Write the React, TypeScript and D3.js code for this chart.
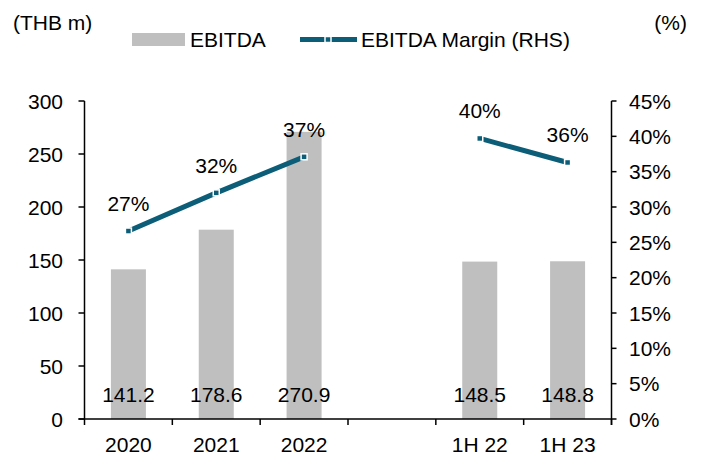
import React from "react";
import * as d3 from "d3";

const categories = ["2020", "2021", "2022", "", "1H 22", "1H 23"];
const ebitda: (number | null)[] = [141.2, 178.6, 270.9, null, 148.5, 148.8];
const margin: (number | null)[] = [0.266, 0.32, 0.371, null, 0.397, 0.363];
const leftTicks = [0, 50, 100, 150, 200, 250, 300];
const rightTicks = [0, 0.05, 0.1, 0.15, 0.2, 0.25, 0.3, 0.35, 0.4, 0.45];

const W = 703;
const H = 459;
const X0 = 84.5;
const X1 = 611.5;
const Y0 = 419;
const Y1 = 101;
const TEAL = "#0b5d78";
const GREY = "#bfbfbf";
const FONT = "'Liberation Sans', Arial, sans-serif";

export default function App() {
  const x = d3.scaleBand<number>().domain(categories.map((_, i) => i)).range([X0, X1]);
  const yL = d3.scaleLinear().domain([0, 300]).range([Y0, Y1]);
  const yR = d3.scaleLinear().domain([0, 0.45]).range([Y0, Y1]);
  const bw = 35;
  const cx = (i: number) => (x(i) as number) + x.bandwidth() / 2;
  const pct = d3.format(".0%");
  const line = d3
    .line<number | null>()
    .defined((d) => d != null)
    .x((_, i) => cx(i))
    .y((d) => yR(d as number));

  return (
    <svg width={W} height={H} style={{ position: "absolute", left: 0, top: 0, background: "#fff" }} fontFamily={FONT} fontSize={21}>
      {/* header texts */}
      <text x={13} y={30} fill="#000">(THB m)</text>
      <text x={687} y={30} textAnchor="end" fill="#000">(%)</text>
      {/* legend */}
      <rect x={132} y={33} width={53} height={13} fill={GREY} />
      <text x={190} y={47} fill="#000">EBITDA</text>
      <line x1={300} x2={357} y1={39.5} y2={39.5} stroke={TEAL} strokeWidth={5} />
      <rect x={325} y={36.5} width={6} height={6} fill={TEAL} stroke="#fff" strokeWidth={1.5} />
      <text x={361} y={47} fill="#000">EBITDA Margin (RHS)</text>

      {/* bars */}
      {ebitda.map((v, i) =>
        v == null ? null : (
          <rect key={"b" + i} x={cx(i) - bw / 2} y={yL(v)} width={bw} height={Y0 - yL(v)} fill={GREY} />
        )
      )}

      {/* axes */}
      <line x1={X0} x2={X0} y1={Y1} y2={Y0 + 6} stroke="#000" strokeWidth={1.5} />
      {leftTicks.map((t) => (
        <g key={"l" + t}>
          <line x1={X0 - 6} x2={X0} y1={yL(t)} y2={yL(t)} stroke="#000" strokeWidth={1.5} />
          <text x={63} y={yL(t) + 7.5} textAnchor="end" fill="#000">{t}</text>
        </g>
      ))}
      <line x1={X1} x2={X1} y1={Y1} y2={Y0 + 6} stroke="#000" strokeWidth={1.5} />
      {rightTicks.map((t) => (
        <g key={"r" + t}>
          <line x1={X1} x2={X1 + 5} y1={yR(t)} y2={yR(t)} stroke="#000" strokeWidth={1.5} />
          <text x={629} y={yR(t) + 7.5} fill="#000">{pct(t)}</text>
        </g>
      ))}
      <line x1={X0 - 6} x2={X1} y1={Y0} y2={Y0} stroke="#000" strokeWidth={1.5} />
      {categories.map((c, i) => (
        <g key={"x" + i}>
          <line x1={(x(i) as number) + x.bandwidth()} x2={(x(i) as number) + x.bandwidth()} y1={Y0} y2={Y0 + 6} stroke="#000" strokeWidth={1.5} />
          <text x={cx(i)} y={452} textAnchor="middle" fill="#000">{c}</text>
        </g>
      ))}

      {/* bar value labels */}
      {ebitda.map((v, i) =>
        v == null ? null : (
          <text key={"bv" + i} x={cx(i)} y={402} textAnchor="middle" fill="#000">{v.toFixed(1)}</text>
        )
      )}

      {/* margin line */}
      <path d={line(margin) || ""} fill="none" stroke={TEAL} strokeWidth={5} />
      {margin.map((v, i) =>
        v == null ? null : (
          <g key={"m" + i}>
            <rect x={cx(i) - 3} y={yR(v) - 3} width={6} height={6} fill={TEAL} stroke="#fff" strokeWidth={1.5} />
            <text x={cx(i)} y={yR(v) - 20} textAnchor="middle" fill="#000">{pct(Math.round(v * 100) / 100)}</text>
          </g>
        )
      )}
    </svg>
  );
}
